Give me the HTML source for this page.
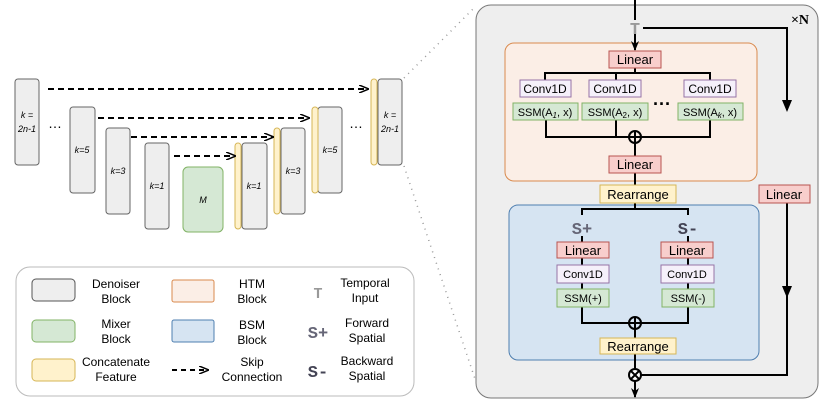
<!DOCTYPE html><html><head><style>body{margin:0;background:#fff}</style></head><body>
<svg width="828" height="403" viewBox="0 0 828 403" xmlns="http://www.w3.org/2000/svg" font-family="Liberation Sans, sans-serif">
<defs><marker id="a" markerWidth="10" markerHeight="8" refX="9" refY="4" orient="auto" markerUnits="userSpaceOnUse"><path d="M0,0L10,4L0,8L3,4z" fill="#000"/></marker>
<marker id="o" markerWidth="10" markerHeight="8" refX="9" refY="4" orient="auto" markerUnits="userSpaceOnUse"><path d="M0,0L10,4L0,8" fill="none" stroke="#000" stroke-width="1.5"/></marker></defs>
<g stroke="#666" fill="#eee" stroke-width="1">
<rect x="15" y="79" width="24" height="86" rx="3"/>
<rect x="70" y="107" width="25" height="86" rx="3"/>
<rect x="106" y="128" width="24" height="86" rx="3"/>
<rect x="145" y="143" width="24" height="86" rx="3"/>
<rect x="242" y="143" width="25" height="86" rx="3"/>
<rect x="281" y="128" width="24" height="86" rx="3"/>
<rect x="318" y="107" width="24" height="86" rx="3"/>
<rect x="378" y="79" width="24" height="86" rx="3"/>
</g>
<rect x="183" y="167" width="40" height="65" rx="5" fill="#d5e8d4" stroke="#82b366"/>
<g fill="#fff2cc" stroke="#d6b656"><rect x="235" y="143" width="6" height="86" rx="3"/><rect x="274" y="128" width="6" height="86" rx="3"/><rect x="312" y="107" width="6" height="86" rx="3"/><rect x="371" y="79" width="6" height="86" rx="3"/></g>
<g font-size="9" font-style="italic" text-anchor="middle" fill="#000">
<text x="27" y="118">k =</text><text x="27" y="132">2n-1</text><text x="82" y="153">k=5</text><text x="118" y="174">k=3</text><text x="157" y="189">k=1</text><text x="203" y="203">M</text><text x="254" y="189">k=1</text><text x="293" y="174">k=3</text><text x="330" y="153">k=5</text><text x="390" y="118">k =</text><text x="390" y="132">2n-1</text></g>
<text x="55" y="128" font-size="14" text-anchor="middle">…</text><text x="356" y="128" font-size="14" text-anchor="middle">…</text>
<g stroke="#000" stroke-width="2" stroke-dasharray="6,4" fill="none" marker-end="url(#o)">
<path d="M48,89H368"/><path d="M98,118H309"/><path d="M131,137H273"/><path d="M174,156H235"/></g>
<g stroke="#999" stroke-width="1.5" stroke-dasharray="1,5"><path d="M404,78L476,6"/><path d="M404,166L476,382"/></g>
<rect x="476" y="5" width="342" height="393" rx="15" fill="#eee" stroke="#777"/>
<rect x="505" y="43" width="252" height="138" rx="9" fill="#fbeee6" stroke="#d98a4e"/>
<rect x="509" y="205" width="250" height="155" rx="9" fill="#d6e4f2" stroke="#4f7fb0"/>
<g stroke="#000" stroke-width="2" fill="none">
<path d="M635,0V20"/><path d="M643,28H787V110"/><path d="M787,203V296"/><path d="M787,203V375H641"/>
<path d="M635,33V50" marker-end="url(#a)"/><path d="M635,68V73M545,80V73H710V80M616,73V80"/>
<path d="M546,120V137H710V120M616,120V137M635,143V156M635,173V185M635,203V209M582,215V209H688V215"/>
<path d="M582,236V242M688,236V242M582,258V265M688,258V265M582,283V289M688,283V289"/>
<path d="M582,307V323H688V307M635,329V338M635,354V369"/><path d="M635,381V397" marker-end="url(#a)"/>
</g>
<path d="M782,100L787,112L792,100z"/><path d="M782,286L787,298L792,286z"/>
<circle cx="635" cy="137" r="6" fill="none" stroke="#000" stroke-width="2"/><path d="M629,137H641M635,131V143" stroke="#000" stroke-width="2"/>
<circle cx="635" cy="323" r="6" fill="none" stroke="#000" stroke-width="2"/><path d="M629,323H641M635,317V329" stroke="#000" stroke-width="2"/>
<circle cx="635" cy="375" r="6" fill="#fff" stroke="#000" stroke-width="2"/><path d="M631,371L639,379M639,371L631,379" stroke="#000" stroke-width="2"/>
<text x="635" y="34" font-family="Liberation Mono, monospace" font-weight="bold" font-size="17" fill="#999" text-anchor="middle">T</text>
<text x="800" y="24" font-family="Liberation Serif, serif" font-weight="bold" font-size="14" text-anchor="middle">×N</text>
<g font-size="12" text-anchor="middle">
<g fill="#f8cecc" stroke="#b85450"><rect x="609" y="51" width="52" height="17"/><rect x="609" y="156" width="52" height="17"/><rect x="759" y="185" width="51" height="18"/><rect x="557" y="242" width="52" height="16"/><rect x="661" y="242" width="52" height="16"/></g>
<g stroke="#9673a6" fill="#f5f0fa"><rect x="520" y="80" width="51" height="17"/><rect x="589" y="80" width="52" height="17"/><rect x="684" y="80" width="52" height="17"/><rect x="557" y="265" width="52" height="18"/><rect x="661" y="265" width="53" height="18"/></g>
<g fill="#d5e8d4" stroke="#82b366"><rect x="513" y="103" width="65" height="17"/><rect x="582" y="103" width="66" height="17"/><rect x="678" y="103" width="65" height="17"/><rect x="557" y="289" width="52" height="18"/><rect x="662" y="289" width="52" height="18"/></g>
<g fill="#fff2cc" stroke="#d6b656"><rect x="600" y="185" width="76" height="18"/><rect x="600" y="338" width="76" height="16"/></g>
<g font-size="13"><text x="635" y="64">Linear</text><text x="635" y="169">Linear</text><text x="784" y="199">Linear</text><text x="583" y="255">Linear</text><text x="687" y="255">Linear</text><text x="638" y="199">Rearrange</text><text x="638" y="351">Rearrange</text></g>
<text x="545" y="93">Conv1D</text><text x="615" y="93">Conv1D</text><text x="710" y="93">Conv1D</text><text x="583" y="278" font-size="11">Conv1D</text><text x="687" y="278" font-size="11">Conv1D</text>
<text x="545" y="116" font-size="11">SSM(A<tspan font-size="8" font-style="italic" dy="2">1</tspan><tspan dy="-2">, x)</tspan></text>
<text x="615" y="116" font-size="11">SSM(A<tspan font-size="8" dy="2">2</tspan><tspan dy="-2">, x)</tspan></text>
<text x="710" y="116" font-size="11">SSM(A<tspan font-size="8" font-style="italic" dy="2">k</tspan><tspan dy="-2">, x)</tspan></text>
<text x="583" y="302" font-size="11">SSM(+)</text><text x="688" y="302" font-size="11">SSM(-)</text>
<text x="662" y="110" font-size="18" font-weight="bold">···</text>
</g>
<g font-family="Liberation Mono, monospace" font-weight="bold" font-size="17" text-anchor="middle"><text x="582" y="234" fill="#667">S+</text><text x="688" y="234" fill="#445">S-</text></g>
<rect x="16" y="267" width="398" height="129" rx="14" fill="#fff" stroke="#bbb"/>
<rect x="32" y="279" width="43" height="22" rx="4" fill="#eee" stroke="#555"/>
<rect x="32" y="320" width="43" height="22" rx="4" fill="#d5e8d4" stroke="#82b366"/>
<rect x="32" y="359" width="43" height="22" rx="4" fill="#fff2cc" stroke="#d6b656"/>
<rect x="172" y="280" width="42" height="22" rx="2" fill="#fbeee6" stroke="#d98a4e"/>
<rect x="172" y="320" width="42" height="22" rx="2" fill="#d6e4f2" stroke="#4f7fb0"/>
<path d="M172,370H208" stroke="#000" stroke-width="2" stroke-dasharray="5,4" marker-end="url(#o)"/>
<g font-size="12" text-anchor="middle">
<text x="116" y="288">Denoiser</text><text x="116" y="303">Block</text>
<text x="116" y="328">Mixer</text><text x="116" y="343">Block</text>
<text x="116" y="366">Concatenate</text><text x="116" y="381">Feature</text>
<text x="252" y="288">HTM</text><text x="252" y="303">Block</text>
<text x="252" y="329">BSM</text><text x="252" y="344">Block</text>
<text x="252" y="366">Skip</text><text x="252" y="381">Connection</text>
<text x="365" y="287">Temporal</text><text x="365" y="302">Input</text>
<text x="367" y="327">Forward</text><text x="367" y="342">Spatial</text>
<text x="367" y="365">Backward</text><text x="367" y="380">Spatial</text></g>
<g font-family="Liberation Mono, monospace" font-weight="bold" text-anchor="middle"><text x="318" y="298" font-size="15" fill="#999">T</text><text x="318" y="338" font-size="17" fill="#667">S+</text><text x="318" y="377" font-size="17" fill="#445">S-</text></g>
</svg></body></html>
